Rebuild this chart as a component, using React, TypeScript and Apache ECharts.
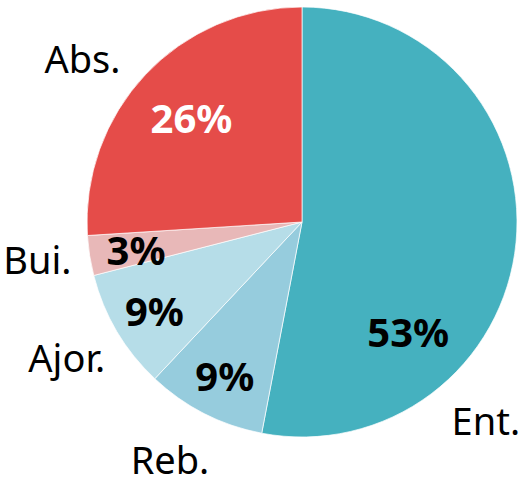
import React, { useEffect, useRef } from "react";
import * as echarts from "echarts";

const categories = ["Ent.", "Reb.", "Ajor.", "Bui.", "Abs."];
const values = [53, 9, 9, 3, 26];
const colors = ["#45B1BF", "#96CCDD", "#B6DDE8", "#E8B8B8", "#E54C49"];
const percentColors = ["#000000", "#000000", "#000000", "#000000", "#FFFFFF"];

// label nudges (px) relative to ECharts' default placement
const percentNudge: [number, number][] = [[-61, 94], [-1, 4], [-3, 3], [0, 1], [12, 11]];
const nameNudge: [number, number][] = [[-86, 172], [-9, -4], [-2, -3], [3, -5], [-22, 22]];

const FONT = "'Noto Sans', 'Open Sans', sans-serif";

export default function App() {
  const ref = useRef<HTMLDivElement>(null);
  useEffect(() => {
    if (!ref.current) return;
    const chart = echarts.init(ref.current, undefined, { renderer: "svg" });
    const center = [302, 222];
    const base = categories.map((c, i) => ({ name: c, value: values[i] }));
    chart.setOption({
      animation: false,
      series: [
        {
          type: "pie",
          center,
          radius: [0, 215],
          startAngle: 90,
          clockwise: true,
          silent: true,
          label: { show: false },
          labelLine: { show: false },
          itemStyle: { borderColor: "rgba(255,255,255,0.7)", borderWidth: 1 },
          data: base.map((d, i) => ({ ...d, itemStyle: { color: colors[i] } })),
        },
        {
          type: "pie",
          center,
          radius: [0, 330],
          startAngle: 90,
          clockwise: true,
          silent: true,
          itemStyle: { color: "rgba(0,0,0,0)" },
          labelLine: { show: false },
          label: {
            show: true,
            position: "inside",
            fontFamily: FONT,
            fontWeight: "bold",
            fontSize: 40,
            formatter: (p: any) => `${values[p.dataIndex]}%`,
          },
          labelLayout: (p: any) => ({ dx: percentNudge[p.dataIndex][0], dy: percentNudge[p.dataIndex][1] }),
          data: base.map((d, i) => ({ ...d, label: { color: percentColors[i] } })),
        },
        {
          type: "pie",
          center,
          radius: [0, 536],
          startAngle: 90,
          clockwise: true,
          silent: true,
          itemStyle: { color: "rgba(0,0,0,0)" },
          labelLine: { show: false },
          label: {
            show: true,
            position: "inside",
            fontFamily: FONT,
            fontSize: 38,
            lineHeight: 38,
            color: "#000000",
            formatter: (p: any) => p.name,
          },
          labelLayout: (p: any) => ({ dx: nameNudge[p.dataIndex][0], dy: nameNudge[p.dataIndex][1] }),
          data: base,
        },
      ],
    });
    return () => chart.dispose();
  }, []);
  return (
    <div
      ref={ref}
      style={{ position: "absolute", left: 0, top: 0, width: 529, height: 484 }}
    />
  );
}
